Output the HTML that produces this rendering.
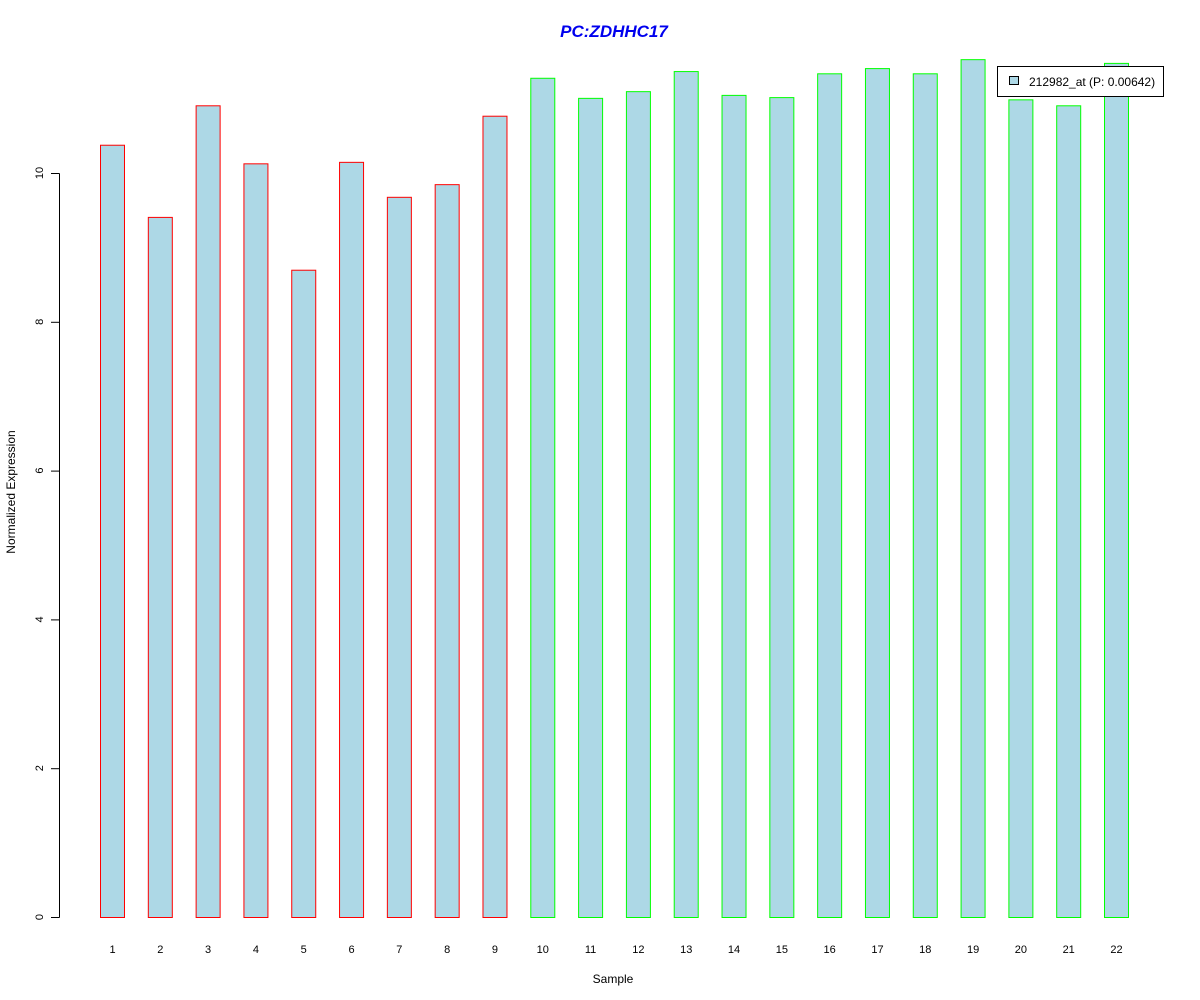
<!DOCTYPE html>
<html><head><meta charset="utf-8"><style>
body{margin:0;background:#fff}
svg{display:block;font-family:"Liberation Sans",Arial,sans-serif}
</style></head><body>
<svg id="chart" width="1200" height="1000" viewBox="0 0 1200 1000">
<rect width="1200" height="1000" fill="#fff"/>
<text x="614" y="37" text-anchor="middle" font-size="17" font-weight="bold" font-style="italic" fill="#0000ee">PC:ZDHHC17</text>
<g id="yaxis"></g>
<g id="bars"></g>
<g id="xlabels"></g>
<text x="613" y="983" text-anchor="middle" font-size="12">Sample</text>
<text transform="translate(15,492) rotate(-90)" text-anchor="middle" font-size="12">Normalized Expression</text>
<g>
<rect x="997.5" y="66.5" width="166" height="30" fill="#fff" stroke="#000"/>
<rect x="1009.5" y="76.5" width="9" height="8" fill="#add8e6" stroke="#000"/>
<text x="1029" y="86" font-size="12">212982_at (P: 0.00642)</text>
</g>
</svg>
<script>
const categories=["1","2","3","4","5","6","7","8","9","10","11","12","13","14","15","16","17","18","19","20","21","22"];
const values=[10.38,9.41,10.91,10.13,8.70,10.15,9.68,9.85,10.77,11.28,11.01,11.10,11.37,11.05,11.02,11.34,11.41,11.34,11.53,10.99,10.91,11.48];
const groups=["red","red","red","red","red","red","red","red","red","green","green","green","green","green","green","green","green","green","green","green","green","green"];
const yTicks=[0,2,4,6,8,10];
const NS="http://www.w3.org/2000/svg";
const y=v=>917-v*74.4;
const x=i=>100+i*47.81;
const bw=24;
const bars=document.getElementById('bars'),xl=document.getElementById('xlabels'),ya=document.getElementById('yaxis');
function mk(t,a,p){const e=document.createElementNS(NS,t);for(const k in a)e.setAttribute(k,a[k]);p.appendChild(e);return e;}
categories.forEach((c,i)=>{
  const top=y(values[i]);
  const r=mk('rect',{x:x(i)+0.5,y:top+0.5,width:bw,height:y(0)-top,fill:'#add8e6',stroke:groups[i]==='red'?'#ff0000':'#00ff00','stroke-width':1},bars);
  
  
  const t=mk('text',{x:x(i)+bw/2+0.5,y:953,'text-anchor':'middle','font-size':11},xl);
  t.textContent=c;
  
  
});
const ln=mk('line',{x1:59.5,x2:59.5,y1:y(yTicks[yTicks.length-1])+0.5,y2:y(0)+0.5,stroke:'#000'},ya);


yTicks.forEach(v=>{
  const tk=mk('line',{x1:51,x2:59.5,y1:y(v)+0.5,y2:y(v)+0.5,stroke:'#000'},ya);
  
  
  const t=mk('text',{transform:`translate(43,${y(v)}) rotate(-90)`,'text-anchor':'middle','font-size':11},ya);
  t.textContent=v;
  
  
});
</script>
</body></html>
